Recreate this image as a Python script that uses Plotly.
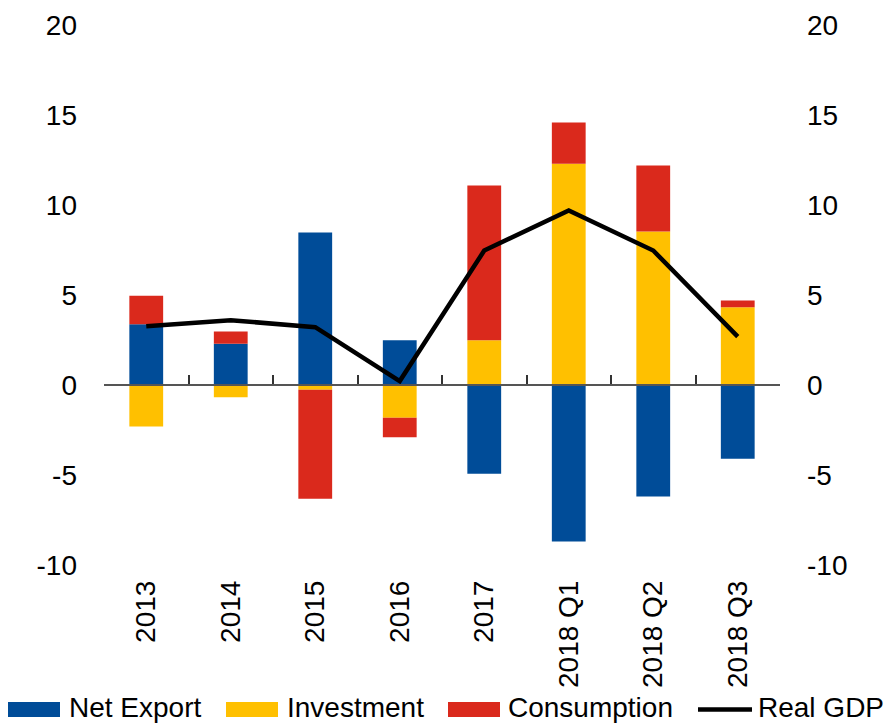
import plotly.graph_objects as go

categories = ["2013", "2014", "2015", "2016", "2017", "2018 Q1", "2018 Q2", "2018 Q3"]
net_export = [3.38, 2.29, 8.47, 2.48, -4.93, -8.70, -6.19, -4.10]
investment = [-2.31, -0.68, -0.27, -1.82, 2.48, 12.29, 8.53, 4.32]
consumption = [1.58, 0.68, -6.05, -1.08, 8.60, 2.29, 3.67, 0.37]
real_gdp = [3.27, 3.60, 3.21, 0.22, 7.47, 9.70, 7.47, 2.69]
y_ticks = [-10, -5, 0, 5, 10, 15, 20]
y_tick_text = ["-10", "-5", "0", "5", "10", "15", "20"]

BLUE = "#004C98"
YELLOW = "#FFC000"
RED = "#DA291C"
FONT = "Liberation Sans, Arial, sans-serif"
FS = 28

# page body adds an 8px offset; size the figure to fill the rest of the window
OFF = 8
W, H = 894 - OFF, 725 - OFF
ML, MR, MT, MB = 104 - OFF, 114, 25 - OFF, 160
PW, PH = W - ML - MR, H - MT - MB

def px_x(x):
    return (x - 104) / PW

def px_y(y):
    return (565 - y) / PH

fig = go.Figure()
for name, vals, col in [("Net Export", net_export, BLUE),
                        ("Investment", investment, YELLOW),
                        ("Consumption", consumption, RED)]:
    fig.add_trace(go.Bar(x=categories, y=vals, name=name, marker_color=col,
                         marker_line_width=0, width=0.4, showlegend=False))
fig.add_trace(go.Scatter(x=categories, y=real_gdp, name="Real GDP", mode="lines",
                         line=dict(color="black", width=4.5), xaxis="x2", yaxis="y",
                         showlegend=False))
# invisible trace so the right-hand axis renders
fig.add_trace(go.Scatter(x=[categories[0]], y=[0], yaxis="y2", mode="markers",
                         marker=dict(opacity=0), showlegend=False, hoverinfo="skip"))

fig.update_layout(
    width=W, height=H,
    margin=dict(l=ML, r=MR, t=MT, b=MB, pad=0),
    paper_bgcolor="white", plot_bgcolor="white",
    barmode="relative",
    font=dict(family=FONT, size=FS, color="black"),
    xaxis=dict(type="category", categoryorder="array", categoryarray=categories,
               domain=[0, 1], tickangle=-90, showline=False, ticks="", showgrid=False,
               zeroline=False, ticklabelstandoff=9, tickfont=dict(size=FS),
               automargin=False),
    xaxis2=dict(type="category", overlaying="x", matches="x", anchor="free",
                position=1/3, side="bottom", showline=True, linecolor="#555555",
                linewidth=2, ticks="inside", ticklen=9, tickwidth=1.5,
                tickcolor="#333333", tickson="boundaries", showticklabels=False,
                showgrid=False, zeroline=False, automargin=False),
    yaxis=dict(range=[-10, 20], tickvals=y_ticks, ticktext=y_tick_text, domain=[0, 1],
               showgrid=False, zeroline=False, showline=False, ticks="",
               ticklabelstandoff=26, tickfont=dict(size=FS), automargin=False),
    yaxis2=dict(range=[-10, 20], tickvals=y_ticks, ticktext=y_tick_text,
                overlaying="y", matches="y", side="right", anchor="x",
                showgrid=False, zeroline=False, showline=False, ticks="",
                ticklabelstandoff=26, tickfont=dict(size=FS), automargin=False),
)

# Legend drawn manually
legend_items = [("Net Export", BLUE, 8, 60, 67, "box"),
                ("Investment", YELLOW, 226, 278, 285, "box"),
                ("Consumption", RED, 448, 500, 506, "box"),
                ("Real GDP", "black", 698, 752, 756, "line")]
yc = 709.5
ytext = 707
for label, col, x0, x1, tx, kind in legend_items:
    if kind == "box":
        fig.add_shape(type="rect", xref="paper", yref="paper",
                      x0=px_x(x0), x1=px_x(x1), y0=px_y(702), y1=px_y(717),
                      fillcolor=col, line_width=0)
    else:
        fig.add_shape(type="line", xref="paper", yref="paper",
                      x0=px_x(x0), x1=px_x(x1), y0=px_y(yc), y1=px_y(yc),
                      line=dict(color=col, width=4.5))
    fig.add_annotation(text=label, xref="paper", yref="paper", x=px_x(tx), y=px_y(ytext),
                       xanchor="left", yanchor="middle", showarrow=False,
                       font=dict(size=FS, family=FONT, color="black"))

fig.write_html("out.html")
